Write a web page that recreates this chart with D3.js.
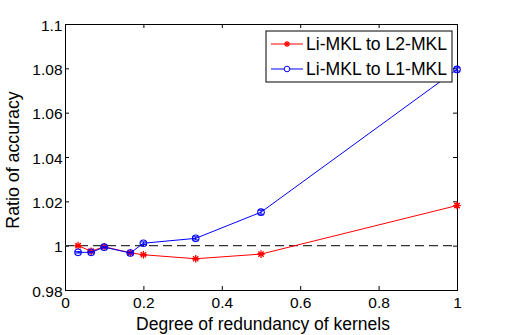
<!DOCTYPE html>
<html><head><meta charset="utf-8">
<script src="https://cdn.jsdelivr.net/npm/d3@7"></script>
<style>body{margin:0;background:#fff}svg{display:block}text{font-family:"Liberation Sans",Arial,sans-serif}</style>
</head><body>
<script>
const xValues = [1/30, 1/15, 0.1, 1/6, 0.2, 1/3, 0.5, 1];
const redValues = [1.0, 0.9975, 0.9995, 0.9968, 0.9959, 0.9941, 0.9962, 1.0181];
const redErr = [0.0003, 0.0003, 0.0003, 0.0004, 0.0003, 0.0003, 0.0003, 0.0008];
const blueValues = [0.997, 0.997, 0.9993, 0.9967, 1.0011, 1.0033, 1.0151, 1.0795];
const blueErr = [0.0003, 0.0003, 0.0004, 0.0004, 0.0006, 0.0007, 0.0009, 0.0007];
const xTicks = [0, 0.2, 0.4, 0.6, 0.8, 1];
const yTicks = [0.98, 1, 1.02, 1.04, 1.06, 1.08, 1.1];
const seriesNames = ["Li-MKL to L2-MKL", "Li-MKL to L1-MKL"];

const W = 505, H = 335;
const m = {l: 65, r: 48, t: 24, b: 45};
const svg = d3.select("body").append("svg").attr("width", W).attr("height", H);
const x = d3.scaleLinear().domain([0, 1]).range([m.l, W - m.r]);
const y = d3.scaleLinear().domain([0.98, 1.1]).range([H - m.b, m.t]);

const fmtY = d => String(+d.toFixed(2));
const fmtX = d => String(+d.toFixed(1));

// axes with inward ticks
const tl = 4;
svg.append("g").attr("transform", `translate(0,${y.range()[0]})`)
  .call(d3.axisBottom(x).tickValues(xTicks).tickSize(-tl).tickPadding(7).tickFormat(fmtX))
  .selectAll(".tick text").attr("font-size", 15.5);
svg.append("g").attr("transform", `translate(0,${y.range()[1]})`)
  .call(d3.axisTop(x).tickValues(xTicks).tickSize(-tl).tickFormat(""));
svg.append("g").attr("transform", `translate(${x.range()[0]},0)`)
  .call(d3.axisLeft(y).tickValues(yTicks).tickSize(-tl).tickPadding(2.5).tickFormat(fmtY))
  .selectAll(".tick text").attr("font-size", 15.5).attr("dy", "0.4em");
svg.append("g").attr("transform", `translate(${x.range()[1]},0)`)
  .call(d3.axisRight(y).tickValues(yTicks).tickSize(-tl).tickFormat(""));
svg.selectAll(".domain").attr("stroke", "#000").attr("stroke-width", 1);
svg.selectAll(".tick line").attr("stroke", "#000");
svg.selectAll(".tick text").attr("fill", "#000");

// dashed reference line
svg.append("line").attr("x1", x(0)).attr("x2", x(1)).attr("y1", y(1)).attr("y2", y(1))
  .attr("stroke", "#333").attr("stroke-dasharray", "9,5").attr("stroke-width", 1.2);

const line = d3.line().x((d, i) => x(xValues[i])).y(d => y(d));

function drawErr(vals, errs, color) {
  const g = svg.append("g").attr("stroke", color).attr("stroke-width", 1);
  vals.forEach((v, i) => {
    const cx = x(xValues[i]);
    g.append("line").attr("x1", cx).attr("x2", cx).attr("y1", y(v - errs[i])).attr("y2", y(v + errs[i]));
    [v - errs[i], v + errs[i]].forEach(e => g.append("line").attr("x1", cx - 3).attr("x2", cx + 3).attr("y1", y(e)).attr("y2", y(e)));
  });
}

function star(g, cx, cy, color, r) {
  const s = g.append("g").attr("stroke", color).attr("stroke-width", 1.3);
  s.append("line").attr("x1", cx - r).attr("x2", cx + r).attr("y1", cy).attr("y2", cy);
  s.append("line").attr("x1", cx).attr("x2", cx).attr("y1", cy - r).attr("y2", cy + r);
  const d = r * 0.7;
  s.append("line").attr("x1", cx - d).attr("x2", cx + d).attr("y1", cy - d).attr("y2", cy + d);
  s.append("line").attr("x1", cx - d).attr("x2", cx + d).attr("y1", cy + d).attr("y2", cy - d);
}

// red series
svg.append("path").datum(redValues).attr("d", line).attr("fill", "none").attr("stroke", "#ff0000").attr("stroke-width", 1);
drawErr(redValues, redErr, "#ff0000");
const rg = svg.append("g");
redValues.forEach((v, i) => star(rg, x(xValues[i]), y(v), "#ff0000", 3.8));

// blue series
svg.append("path").datum(blueValues).attr("d", line).attr("fill", "none").attr("stroke", "#0000ff").attr("stroke-width", 1);
drawErr(blueValues, blueErr, "#0000ff");
svg.append("g").selectAll("circle").data(blueValues).join("circle")
  .attr("cx", (d, i) => x(xValues[i])).attr("cy", d => y(d)).attr("r", 3.3)
  .attr("fill", "none").attr("stroke", "#0000ff").attr("stroke-width", 1.1);

// legend
const lg = svg.append("g").attr("transform", "translate(266,31)");
lg.append("rect").attr("width", 186).attr("height", 51).attr("fill", "#fff").attr("stroke", "#000").attr("stroke-width", 1);
const colors = ["#ff0000", "#0000ff"];
seriesNames.forEach((n, i) => {
  const yy = 13 + i * 25;
  lg.append("line").attr("x1", 5).attr("x2", 37).attr("y1", yy).attr("y2", yy).attr("stroke", colors[i]);
  if (i === 0) star(lg, 21, yy, colors[i], 3);
  else lg.append("circle").attr("cx", 21).attr("cy", yy).attr("r", 2.8).attr("fill", "#fff").attr("stroke", colors[i]);
  lg.append("text").attr("x", 40).attr("y", yy + 6).attr("font-size", 17.6).attr("fill", "#000").text(n);
});

// axis labels
svg.append("text").attr("x", x(0.5) + 2).attr("y", 330).attr("text-anchor", "middle").attr("font-size", 17.5).text("Degree of redundancy of kernels");
svg.append("text").attr("transform", `translate(19,160) rotate(-90)`).attr("text-anchor", "middle").attr("font-size", 17.8).text("Ratio of accuracy");
</script>
</body></html>
